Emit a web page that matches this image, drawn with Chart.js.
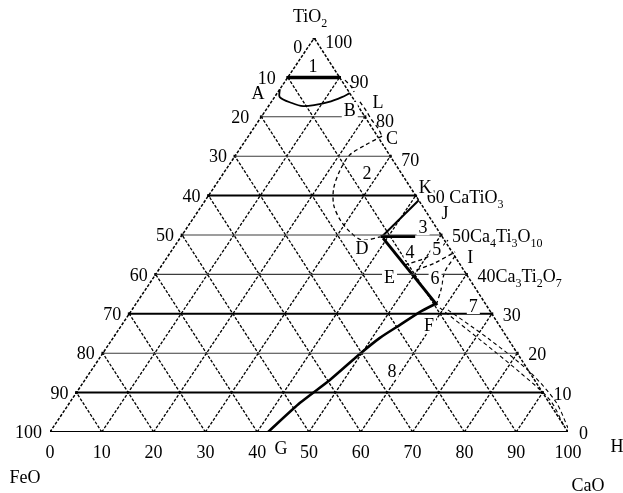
<!DOCTYPE html>
<html><head><meta charset="utf-8">
<script src="https://cdn.jsdelivr.net/npm/chart.js@4/dist/chart.umd.min.js"></script>
<style>html,body{margin:0;padding:0;background:#fff}canvas{display:block}</style>
</head><body>
<canvas id="c" width="623" height="493"></canvas>
<script>
// ===== DATA: ternary compositions as [CaO %, TiO2 %] (FeO = 100 - CaO - TiO2) =====
const gridValues = [10, 20, 30, 40, 50, 60, 70, 80, 90];
const tickValues = [0, 10, 20, 30, 40, 50, 60, 70, 80, 90, 100];
const bottomTickLabels = ['0','10','20','30','40','50','60','70','80','90','100'];          // CaO
const leftTickLabels   = ['0','10','20','30','40','50','60','70','80','90','100'];          // FeO (0 at apex)
const rightTickLabels  = ['0','10','20','30','40Ca{3}Ti{2}O{7}','50Ca{4}Ti{3}O{10}','60 CaTiO{3}','70','80','90','100']; // TiO2

// phase boundaries
const curveAB  = [[0,87],[1,85],[4.1,83.5],[6.7,82.7],[8.9,83],[11,83.7],[13,85],[14,86]];
const curveL   = [[11.4,89.3],[13.3,87.8],[14.7,86.3]];
const curveLC  = [[17.1,83.8],[19.5,81.5],[21.5,79.4],[23.9,77.2],[25.8,75.1]];
const curve2   = [[25.8,75.1],[23.7,72.8],[22.0,70.3],[22.1,66.5],[23.2,61.9],[25.4,57.6],[28.6,53.8],[32.0,50.8],[35.4,48.7],[38.5,49.5]];
const lineDK   = [[38.8,49.7],[41.2,58.8]];
const lineDJ   = [[38.5,49.6],[45.2,49.6]];
const lineDF   = [[39.2,49.2],[58.3,32.2]];
const lineFG   = [[58,32.7],[55.9,30.5],[53.7,27.2],[51.5,23.9],[49.7,19.8],[47.3,13.2],[44.5,7.4],[42.1,0]];
const curve45  = [[46.9,42.4],[50.2,44.4],[51.5,46.7],[52,48.7]];
const curve56  = [[49.8,41.1],[52.4,42.9],[54.9,45.7]];
const curve67  = [[55.4,44.7],[55.5,40.6],[57.1,36],[58,32.7]];
const curveFHa = [[59.2,31.5],[71.1,23.4],[82.9,15.2],[92.4,8.1],[98.9,1]];
const curveFHb = [[61,31],[73,23.4],[84.9,15.2],[93.8,7.6],[99.5,1]];

const fieldLabels = ['1','2','3','4','5','6','7','8','A','B','C','D','E','F','I','J','K','L'];

// ===== LAYOUT / STYLE =====
const K = 0.51; // horizontal skew of the apex in the scanned drawing
function tern(p) { return { x: p[0] + K * p[1], y: p[1] }; }
const fieldLabelPos = {
  '1':[3.4,92.9],'2':[27.7,65.7],'3':[45.5,52.0],'4':[46.2,45.7],'5':[51.0,46.4],'6':[54.4,39.1],
  '7':[65.4,32.0],'8':[58.1,15.5],'A':[-3.7,86.0],'B':[16.2,81.7],'C':[28.0,74.6],'D':[36.4,46.7],
  'E':[45.5,39.3],'F':[59.3,27.2],'I':[58.5,44.4],'J':[47.9,55.6],'K':[40.7,62.2],'L':[20.6,83.8]
};
const thickLevels = [10, 30, 60];
const boldLevels = [90];

const sThin  = { borderColor: '#3c3c3c', borderWidth: 1.1 };
const sThick = { borderColor: '#000', borderWidth: 2 };
const sBold  = { borderColor: '#000', borderWidth: 3.5 };
const sDiag  = { borderColor: '#000', borderWidth: 1.3, borderDash: [3, 1.6] };
const sEdge  = { borderColor: '#000', borderWidth: 1.5, borderDash: [3, 1.6] };
const sBase  = { borderColor: '#000', borderWidth: 2.2 };
const sDash  = { borderColor: '#000', borderWidth: 1.3, borderDash: [4, 3], tension: 0.3 };
const sSolid = { borderColor: '#000', borderWidth: 1.8, tension: 0.3 };

function ds(points, style) {
  return Object.assign({ data: points.map(tern), showLine: true, pointRadius: 0, fill: false, tension: 0 }, style);
}

const datasets = [];
gridValues.forEach(v => {
  if (!thickLevels.includes(v) && !boldLevels.includes(v)) datasets.push(ds([[0, v], [100 - v, v]], sThin));
});
gridValues.forEach(v => {
  datasets.push(ds([[v, 0], [v, 100 - v]], sDiag));
  datasets.push(ds([[100 - v, 0], [0, 100 - v]], sDiag));
});
gridValues.forEach(v => {
  if (thickLevels.includes(v)) datasets.push(ds([[0, v], [100 - v, v]], sThick));
  if (boldLevels.includes(v)) datasets.push(ds([[0, v], [100 - v, v]], sBold));
});
datasets.push(ds([[0, 0], [0, 100]], sEdge));
datasets.push(ds([[100, 0], [0, 100]], sEdge));
datasets.push(ds([[0, 0], [100, 0]], sBase));

datasets.push(ds(curveAB, sSolid));
datasets.push(ds(curveL, sDash));
datasets.push(ds(curveLC, sDash));
datasets.push(ds(curve2, sDash));
datasets.push(ds(lineDK, { borderColor: '#000', borderWidth: 2 }));
datasets.push(ds(lineDJ, { borderColor: '#000', borderWidth: 3 }));
datasets.push(ds(lineDF, { borderColor: '#000', borderWidth: 3 }));
datasets.push(ds(lineFG, { borderColor: '#000', borderWidth: 2.6, tension: 0.2 }));
datasets.push(ds(curve45, sDash));
datasets.push(ds(curve56, sDash));
datasets.push(ds(curve67, sDash));
datasets.push(ds(curveFHa, Object.assign({}, sDash, { borderWidth: 1.1 })));
datasets.push(ds(curveFHb, Object.assign({}, sDash, { borderWidth: 1.1 })));

// tick markers on the three edges
const tickPts = [];
tickValues.forEach(v => { tickPts.push([v, 0]); tickPts.push([0, v]); tickPts.push([100 - v, v]); });
datasets.push({ data: tickPts.map(tern), showLine: false, pointStyle: 'rect', pointRadius: 2,
  pointBackgroundColor: '#000', pointBorderWidth: 0 });

const FONT = "'Liberation Serif', 'DejaVu Serif', serif";

function parseRich(str) {
  const segs = []; const re = /\{([^}]*)\}|([^{]+)/g; let m;
  while ((m = re.exec(str))) { if (m[1] !== undefined) segs.push({ t: m[1], sub: true }); else segs.push({ t: m[2], sub: false }); }
  return segs;
}
function drawRich(ctx, str, x, y, align, size, bg) {
  const segs = parseRich(str);
  const sub = Math.round(size * 0.68);
  let w = 0;
  segs.forEach(s => { ctx.font = (s.sub ? sub : size) + 'px ' + FONT; s.w = ctx.measureText(s.t).width; w += s.w; });
  let x0 = align === 'center' ? x - w / 2 : align === 'right' ? x - w : x;
  if (bg) { ctx.fillStyle = '#fff'; ctx.fillRect(x0 - 2, y - size * 0.45, w + 4, size * 0.9); }
  ctx.fillStyle = '#000'; ctx.textAlign = 'left'; ctx.textBaseline = 'alphabetic';
  segs.forEach(s => {
    ctx.font = (s.sub ? sub : size) + 'px ' + FONT;
    ctx.fillText(s.t, x0, y + size * 0.34 + (s.sub ? size * 0.28 : 0));
    x0 += s.w;
  });
}

const labelPlugin = {
  id: 'ternaryLabels',
  afterDatasetsDraw(chart) {
    const ctx = chart.ctx, xs = chart.scales.x, ys = chart.scales.y;
    const P = p => { const q = tern(p); return [xs.getPixelForValue(q.x), ys.getPixelForValue(q.y)]; };
    ctx.save();
    tickValues.forEach((v, i) => {
      let [px, py] = P([v, 0]);
      drawRich(ctx, bottomTickLabels[i], px, py + 20, 'center', 18);
      [px, py] = P([0, 100 - v]);
      drawRich(ctx, leftTickLabels[i], px - (v <= 20 ? 12 : 8), py + (v === 0 ? 9 : 0), 'right', 18);
      [px, py] = P([100 - v, v]);
      drawRich(ctx, rightTickLabels[i], px + 11, py + (v >= 70 ? 4 : 1), 'left', 18);
    });
    let [ax, ay] = P([0, 100]);
    drawRich(ctx, 'TiO{2}', ax - 4, ay - 22, 'center', 18);
    let [lx, ly] = P([0, 0]);
    drawRich(ctx, 'FeO', lx - 25, ly + 45, 'center', 18);
    let [rx, ry] = P([100, 0]);
    drawRich(ctx, 'CaO', rx + 20, ry + 53, 'center', 18);
    drawRich(ctx, 'H', rx + 49, ry + 14, 'center', 18);
    let [gx, gy] = P(lineFG[lineFG.length - 1]);
    drawRich(ctx, 'G', gx + 13, gy + 16, 'center', 18);
    fieldLabels.forEach(l => {
      const [fx, fy] = P(fieldLabelPos[l]);
      drawRich(ctx, l, fx, fy, 'center', 18, l !== 'A');
    });
    ctx.restore();
  }
};

new Chart(document.getElementById('c'), {
  type: 'scatter',
  data: { datasets },
  options: {
    responsive: false, animation: false, devicePixelRatio: 1,
    layout: { padding: { left: 50, right: 55, top: 38, bottom: 61 } },
    scales: {
      x: { type: 'linear', min: 0, max: 100, display: false },
      y: { type: 'linear', min: 0, max: 100, display: false }
    },
    plugins: { legend: { display: false }, tooltip: { enabled: false } }
  },
  plugins: [labelPlugin]
});
</script>
</body></html>
